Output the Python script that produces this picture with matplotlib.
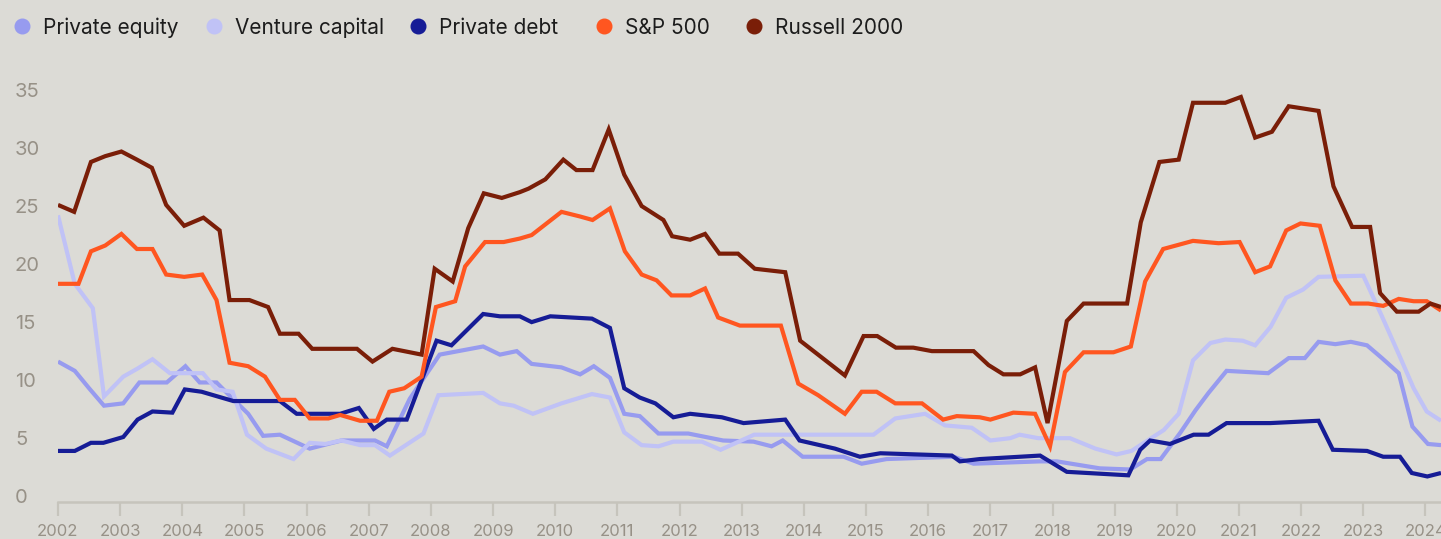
import matplotlib
matplotlib.use("Agg")
import matplotlib.pyplot as plt
from matplotlib.lines import Line2D

plt.rcParams['font.family'] = ['Inter', 'DejaVu Sans']

# ---- data (quarterly readings, decimal years) ----
pe_years = [2002.0, 2002.27, 2002.5, 2002.74, 2003.05, 2003.31, 2003.75, 2004.05, 2004.28, 2004.55,
            2004.81, 2005.06, 2005.3, 2005.57, 2006.05, 2006.56, 2007.1, 2007.29, 2007.66, 2008.14,
            2008.84, 2009.11, 2009.38, 2009.62, 2010.1, 2010.4, 2010.62, 2010.88, 2011.11, 2011.36,
            2011.66, 2012.14, 2012.7, 2013.19, 2013.48, 2013.66, 2013.98, 2014.64, 2014.93, 2015.33,
            2016.41, 2016.73, 2017.8, 2018.07, 2018.76, 2019.25, 2019.52, 2019.74, 2020.06, 2020.3,
            2020.51, 2020.8, 2021.47, 2021.8, 2022.06, 2022.28, 2022.55, 2022.8, 2023.06, 2023.3,
            2023.57, 2023.79, 2024.04, 2024.25]
pe_vals = [11.6, 10.8, 9.3, 7.8, 8.0, 9.8, 9.8, 11.2, 9.8, 9.8,
           8.4, 7.1, 5.2, 5.3, 4.1, 4.8, 4.8, 4.3, 8.4, 12.2,
           12.9, 12.2, 12.5, 11.4, 11.1, 10.5, 11.2, 10.2, 7.1, 6.9,
           5.4, 5.4, 4.8, 4.7, 4.3, 4.8, 3.4, 3.4, 2.8, 3.2,
           3.4, 2.8, 3.0, 3.0, 2.4, 2.3, 3.2, 3.2, 5.5, 7.4,
           8.9, 10.8, 10.6, 11.9, 11.9, 13.3, 13.1, 13.3, 13.0, 11.9,
           10.6, 6.0, 4.5, 4.4]

vc_years = [2002.0, 2002.27, 2002.56, 2002.74, 2003.05, 2003.28, 2003.52, 2003.8, 2004.33, 2004.55,
            2004.81, 2005.04, 2005.35, 2005.79, 2006.05, 2006.3, 2006.56, 2006.86, 2007.1, 2007.34,
            2007.88, 2008.12, 2008.84, 2009.11, 2009.33, 2009.64, 2010.1, 2010.59, 2010.88, 2011.11,
            2011.39, 2011.66, 2011.9, 2012.36, 2012.66, 2013.2, 2015.12, 2015.47, 2015.95, 2016.27,
            2016.7, 2017.0, 2017.32, 2017.47, 2017.77, 2018.28, 2018.69, 2019.03, 2019.27, 2019.79,
            2020.03, 2020.26, 2020.54, 2020.78, 2021.06, 2021.26, 2021.51, 2021.76, 2022.03, 2022.28,
            2023.0, 2023.3, 2023.59, 2023.81, 2024.02, 2024.25]
vc_vals = [24.2, 18.3, 16.2, 8.6, 10.3, 11.0, 11.8, 10.6, 10.6, 9.2,
           9.0, 5.3, 4.1, 3.2, 4.6, 4.5, 4.8, 4.4, 4.4, 3.5,
           5.4, 8.7, 8.9, 8.0, 7.8, 7.1, 8.0, 8.8, 8.5, 5.5,
           4.4, 4.3, 4.7, 4.7, 4.0, 5.3, 5.3, 6.7, 7.1, 6.1,
           5.9, 4.8, 5.0, 5.3, 5.0, 5.0, 4.1, 3.6, 3.9, 5.7,
           7.1, 11.7, 13.2, 13.5, 13.4, 13.0, 14.6, 17.1, 17.8, 18.9,
           19.0, 15.5, 12.0, 9.3, 7.3, 6.5]

pd_years = [2002.0, 2002.27, 2002.53, 2002.73, 2003.05, 2003.28, 2003.52, 2003.84, 2004.04, 2004.31,
            2004.82, 2005.57, 2005.84, 2006.54, 2006.84, 2007.08, 2007.29, 2007.61, 2008.09, 2008.33,
            2008.84, 2009.11, 2009.43, 2009.62, 2009.92, 2010.59, 2010.88, 2011.11, 2011.36, 2011.61,
            2011.9, 2012.17, 2012.68, 2013.03, 2013.7, 2013.93, 2014.5, 2014.9, 2015.23, 2016.38,
            2016.51, 2016.83, 2017.8, 2018.23, 2019.22, 2019.41, 2019.57, 2019.89, 2020.27, 2020.51,
            2020.8, 2021.5, 2022.28, 2022.51, 2023.06, 2023.32, 2023.59, 2023.78, 2024.03, 2024.25]
pd_vals = [3.9, 3.9, 4.6, 4.6, 5.1, 6.6, 7.3, 7.2, 9.2, 9.0,
           8.2, 8.2, 7.1, 7.1, 7.6, 5.8, 6.6, 6.6, 13.4, 13.0,
           15.7, 15.5, 15.5, 15.0, 15.5, 15.3, 14.5, 9.3, 8.5, 8.0,
           6.8, 7.1, 6.8, 6.3, 6.6, 4.8, 4.1, 3.4, 3.7, 3.5,
           3.0, 3.2, 3.5, 2.1, 1.8, 4.0, 4.8, 4.5, 5.3, 5.3,
           6.3, 6.3, 6.5, 4.0, 3.9, 3.4, 3.4, 2.0, 1.7, 2.0]

sp_years = [2002.0, 2002.33, 2002.53, 2002.76, 2003.02, 2003.27, 2003.52, 2003.74, 2004.03, 2004.32,
            2004.55, 2004.76, 2005.06, 2005.33, 2005.57, 2005.81, 2006.05, 2006.35, 2006.54, 2006.86,
            2007.13, 2007.33, 2007.57, 2007.85, 2008.08, 2008.39, 2008.55, 2008.87, 2009.17, 2009.43,
            2009.62, 2010.1, 2010.4, 2010.6, 2010.88, 2011.12, 2011.39, 2011.63, 2011.87, 2012.17,
            2012.41, 2012.62, 2012.97, 2013.63, 2013.91, 2014.23, 2014.66, 2014.93, 2015.17, 2015.47,
            2015.9, 2016.24, 2016.46, 2016.83, 2017.0, 2017.37, 2017.72, 2017.96, 2018.2, 2018.5,
            2018.98, 2019.26, 2019.49, 2019.78, 2020.26, 2020.67, 2021.01, 2021.26, 2021.5, 2021.76,
            2021.99, 2022.3, 2022.55, 2022.8, 2023.08, 2023.32, 2023.57, 2023.81, 2024.02, 2024.25]
sp_vals = [18.3, 18.3, 21.1, 21.6, 22.6, 21.3, 21.3, 19.1, 18.9, 19.1,
           16.9, 11.5, 11.2, 10.3, 8.3, 8.3, 6.7, 6.7, 7.0, 6.5,
           6.5, 9.0, 9.3, 10.3, 16.3, 16.8, 19.8, 21.9, 21.9, 22.2,
           22.5, 24.5, 24.1, 23.8, 24.8, 21.1, 19.1, 18.6, 17.3, 17.3,
           17.9, 15.4, 14.7, 14.7, 9.7, 8.7, 7.1, 9.0, 9.0, 8.0,
           8.0, 6.6, 6.9, 6.8, 6.6, 7.2, 7.1, 4.3, 10.7, 12.4,
           12.4, 12.9, 18.5, 21.3, 22.0, 21.8, 21.9, 19.3, 19.8, 22.9,
           23.5, 23.3, 18.6, 16.6, 16.6, 16.4, 17.0, 16.8, 16.8, 16.0]

rut_years = [2002.0, 2002.26, 2002.53, 2002.76, 2003.02, 2003.27, 2003.51, 2003.74, 2004.03, 2004.34,
             2004.6, 2004.76, 2005.08, 2005.38, 2005.57, 2005.87, 2006.09, 2006.81, 2007.06, 2007.38,
             2007.85, 2008.06, 2008.35, 2008.6, 2008.85, 2009.14, 2009.43, 2009.57, 2009.84, 2010.13,
             2010.34, 2010.6, 2010.86, 2011.11, 2011.39, 2011.74, 2011.88, 2012.17, 2012.41, 2012.64,
             2012.94, 2013.21, 2013.7, 2013.94, 2014.66, 2014.96, 2015.18, 2015.48, 2015.76, 2016.06,
             2016.73, 2016.97, 2017.21, 2017.48, 2017.72, 2017.92, 2018.23, 2018.5, 2019.2, 2019.42,
             2019.72, 2020.03, 2020.26, 2020.78, 2021.03, 2021.26, 2021.53, 2021.8, 2022.28, 2022.52,
             2022.82, 2023.11, 2023.27, 2023.54, 2023.89, 2024.08, 2024.25]
rut_vals = [25.1, 24.5, 28.8, 29.3, 29.7, 29.0, 28.3, 25.1, 23.3, 24.0,
            22.9, 16.9, 16.9, 16.3, 14.0, 14.0, 12.7, 12.7, 11.6, 12.7,
            12.2, 19.6, 18.5, 23.1, 26.1, 25.7, 26.2, 26.5, 27.3, 29.0,
            28.1, 28.1, 31.6, 27.7, 25.0, 23.8, 22.4, 22.1, 22.6, 20.9,
            20.9, 19.6, 19.3, 13.4, 10.4, 13.8, 13.8, 12.8, 12.8, 12.5,
            12.5, 11.3, 10.5, 10.5, 11.1, 6.3, 15.1, 16.6, 16.6, 23.6,
            28.8, 29.0, 33.9, 33.9, 34.4, 30.9, 31.4, 33.6, 33.2, 26.7,
            23.2, 23.2, 17.5, 15.9, 15.9, 16.6, 16.3]

series_names = ["Private equity", "Venture capital", "Private debt", "S&P 500", "Russell 2000"]
series_colors = ["#979BEF", "#C0C2F6", "#161C96", "#FF5620", "#7A1E08"]
series_x = [pe_years, vc_years, pd_years, sp_years, rut_years]
series_y = [pe_vals, vc_vals, pd_vals, sp_vals, rut_vals]

y_ticks = [0, 5, 10, 15, 20, 25, 30, 35]
x_ticks = list(range(2002, 2025))

BG = "#DCDBD6"
AXIS = "#C6C4BC"
TICK_TXT = "#979187"

W, H = 1441, 539
fig = plt.figure(figsize=(W / 100, H / 100), dpi=100, facecolor=BG)
ax = fig.add_axes([58 / W, (H - 502) / H, (W - 58) / W, (502 - 72.6) / H])
ax.set_facecolor(BG)

for xs, ys, c in zip(series_x, series_y, series_colors):
    ax.plot(xs, ys, color=c, linewidth=3.0, solid_joinstyle='miter',
            solid_capstyle='butt')

ax.set_xlim(2002, 2024.25)
ax.set_ylim(-0.5, 36.5)

for side in ['top', 'right', 'left']:
    ax.spines[side].set_visible(False)
ax.spines['bottom'].set_color(AXIS)
ax.spines['bottom'].set_linewidth(1.8)

ax.set_xticks(x_ticks)
ax.set_xticklabels([str(x) for x in x_ticks])
ax.tick_params(axis='x', length=10, width=1.6, color=AXIS, pad=6,
               labelsize=12, labelcolor=TICK_TXT)
ax.set_yticks(y_ticks)
ax.set_yticklabels([str(v) for v in y_ticks])
ax.tick_params(axis='y', length=0, pad=31, labelsize=14.5, labelcolor=TICK_TXT)
for lab in ax.get_yticklabels():
    lab.set_horizontalalignment('left')

# legend row across the top: dot + label, placed in figure pixels
legend_dot_px = [22, 214, 418, 604, 754]
legend_y_px = 26
for name, c, px in zip(series_names, series_colors, legend_dot_px):
    fig.add_artist(Line2D([px / W], [1 - legend_y_px / H], transform=fig.transFigure,
                          marker='o', linestyle='none', markersize=10.5,
                          markerfacecolor=c, markeredgecolor=c))
    fig.text((px + 21) / W, 1 - legend_y_px / H, name, fontsize=15, color='#1C1C1C',
             ha='left', va='center_baseline')

fig.savefig("out.png", dpi=100, facecolor=BG)
